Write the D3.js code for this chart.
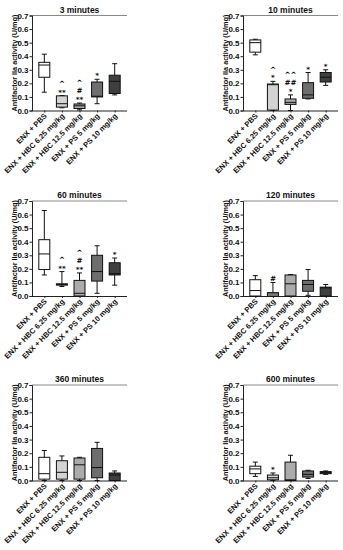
<!DOCTYPE html>
<html><head><meta charset="utf-8">
<script src="https://cdn.jsdelivr.net/npm/d3@7"></script>
<style>
body{margin:0;background:#fff}
svg{display:block;font-family:"Liberation Sans",Arial,sans-serif;font-weight:bold}
</style>
</head><body>
<svg width="343" height="550"></svg>
<script>
var groups = ["ENX + PBS", "ENX + HBC 6.25 mg/kg", "ENX + HBC 12.5 mg/kg", "ENX + PS 5 mg/kg", "ENX + PS 10 mg/kg"]
var fills = ["#ffffff", "#d3d3d3", "#ababab", "#6e6e6e", "#3f3f3f"]
var titles = ["3 minutes", "10 minutes", "60 minutes", "120 minutes", "360 minutes", "600 minutes"]
var yTicks = [0, 0.1, 0.2, 0.3, 0.4, 0.5, 0.6, 0.7]

// [min, q1, median, q3, max] per group
var box3 = [[0.135, 0.245, 0.335, 0.355, 0.415], [0.02, 0.025, 0.05, 0.108, 0.11], [0.005, 0.015, 0.035, 0.048, 0.055], [0.05, 0.1, 0.105, 0.21, 0.23], [0.115, 0.125, 0.215, 0.26, 0.345]]
var box10 = [[0.41, 0.43, 0.5, 0.52, 0.525], [0, 0.003, 0.19, 0.195, 0.215], [0, 0.045, 0.06, 0.085, 0.115], [0.085, 0.09, 0.115, 0.205, 0.28], [0.185, 0.21, 0.245, 0.28, 0.3]]
var box60 = [[0.155, 0.195, 0.31, 0.415, 0.63], [0.07, 0.08, 0.085, 0.09, 0.18], [0, 0, 0.02, 0.115, 0.17], [0.02, 0.11, 0.18, 0.3, 0.37], [0.08, 0.155, 0.165, 0.245, 0.28]]
var box120 = [[0, 0, 0.04, 0.12, 0.15], [0, 0, 0.015, 0.025, 0.1], [0, 0, 0.09, 0.155, 0.158], [0.005, 0.035, 0.085, 0.115, 0.195], [0, 0, 0.06, 0.065, 0.085]]
var box360 = [[0, 0.01, 0.05, 0.17, 0.22], [0, 0.01, 0.06, 0.145, 0.18], [0, 0.01, 0.115, 0.165, 0.17], [0, 0.02, 0.095, 0.235, 0.28], [0, 0, 0.04, 0.055, 0.07]]
var box600 = [[0.03, 0.05, 0.085, 0.105, 0.135], [0, 0.005, 0.02, 0.04, 0.055], [0, 0, 0.005, 0.135, 0.185], [0.015, 0.025, 0.045, 0.07, 0.075], [0.045, 0.05, 0.06, 0.065, 0.07]]

// significance marks per group, bottom to top
var marks3 = [[], ["**", "^"], ["**", "#", "^"], ["*"], []]
var marks10 = [[], ["*", "^"], ["*", "##", "^^"], ["*"], ["*"]]
var marks60 = [[], ["**", "^"], ["**", "#", "^"], [], ["*"]]
var marks120 = [[], ["#"], [], [], []]
var marks360 = [[], [], [], [], []]
var marks600 = [[], ["*"], [], [], []]

var allBoxes = [box3, box10, box60, box120, box360, box600]
var allMarks = [marks3, marks10, marks60, marks120, marks360, marks600]

var colX = [32, 243]
var rowY = [[15.5, 110.5], [201, 296], [385, 480.5]]
var plotW = 95

var svg = d3.select("svg")

titles.forEach((t, i) => {
  var x0 = colX[i % 2]
  var yr = rowY[Math.floor(i / 2)]
  draw(svg.append("g"), x0, yr, t, allBoxes[i], allMarks[i])
})

function draw(g, x0, yr, title, boxes, marks) {
  var y = d3.scaleLinear().domain([0, 0.7]).range([yr[1], yr[0]])
  var x = d3.scalePoint().domain(groups).range([x0, x0 + plotW]).padding(0.7)

  // top line
  g.append("line")
    .attr("x1", x0).attr("x2", x0 + plotW)
    .attr("y1", yr[0]).attr("y2", yr[0])
    .attr("stroke", "#888").attr("stroke-width", 1)

  g.append("text")
    .attr("x", x0 + plotW / 2).attr("y", yr[0] - 3)
    .attr("text-anchor", "middle")
    .attr("font-size", 8.5)
    .attr("fill", "#111")
    .text(title)

  var yAxis = g.append("g")
    .attr("transform", `translate(${x0},0)`)
    .call(d3.axisLeft(y).tickValues(yTicks).tickFormat(d3.format(".1f")).tickSize(2.5).tickPadding(1))
  yAxis.selectAll("text").attr("font-size", 8).attr("font-family", null).attr("font-weight", "bold").attr("fill", "#111")
  yAxis.selectAll("line,path").attr("stroke", "#222")

  var xAxis = g.append("g")
    .attr("transform", `translate(0,${yr[1]})`)
    .call(d3.axisBottom(x).tickSize(2).tickSizeOuter(0).tickFormat(""))
  xAxis.select("path").attr("d", `M${x0},0.5H${x0 + plotW}`).attr("stroke", "#222")
  xAxis.selectAll("line").attr("stroke", "#222")

  g.append("g").selectAll("text")
    .data(groups)
    .join("text")
    .attr("text-anchor", "end")
    .attr("font-size", 7.5)
    .attr("fill", "#111")
    .attr("transform", d => `translate(${x(d) + 3},${yr[1] + 6}) rotate(-45)`)
    .text(d => d)

  g.append("text")
    .attr("transform", `translate(${x0 - 15},${(yr[0] + yr[1]) / 2}) rotate(-90)`)
    .attr("text-anchor", "middle")
    .attr("font-size", 7.3)
    .attr("fill", "#111")
    .text("Antifactor IIa activity (U/mg)")

  var bw = 11, cw = 5
  var bx = g.append("g").selectAll("g")
    .data(boxes)
    .join("g")
    .attr("transform", (d, i) => `translate(${x(groups[i])},0)`)

  bx.append("line")
    .attr("y1", d => y(d[0])).attr("y2", d => y(d[4]))
    .attr("stroke", "#111")
  bx.append("line").attr("x1", -cw / 2).attr("x2", cw / 2)
    .attr("y1", d => y(d[4])).attr("y2", d => y(d[4])).attr("stroke", "#111")
  bx.append("line").attr("x1", -cw / 2).attr("x2", cw / 2)
    .attr("y1", d => y(d[0])).attr("y2", d => y(d[0])).attr("stroke", "#111")
  bx.append("rect")
    .attr("x", -bw / 2).attr("width", bw)
    .attr("y", d => y(d[3])).attr("height", d => y(d[1]) - y(d[3]))
    .attr("fill", (d, i) => fills[i])
    .attr("stroke", "#111")
  bx.append("line").attr("x1", -bw / 2).attr("x2", bw / 2)
    .attr("y1", d => y(d[2])).attr("y2", d => y(d[2])).attr("stroke", "#111")

  // one text per box, marks stacked as tspans
  bx.filter((d, i) => marks[i].length > 0)
    .append("text")
    .attr("text-anchor", "middle")
    .attr("font-size", 7.2)
    .attr("font-family", "DejaVu Sans")
    .attr("fill", "#000")
    .each(function (d) {
      var i = boxes.indexOf(d)
      d3.select(this).selectAll("tspan")
        .data(marks[i])
        .join("tspan")
        .attr("x", 0)
        .attr("y", (m, j) => y(d[4]) - 1 - j * 8.6)
        .text(m => m)
    })
}
</script>
</body></html>
